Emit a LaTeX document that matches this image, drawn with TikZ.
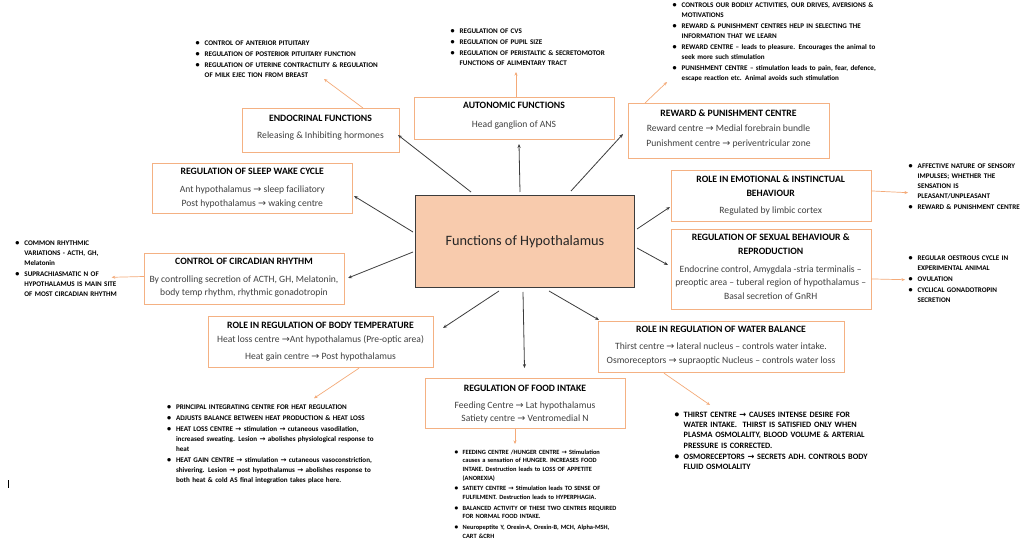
\documentclass[tikz,border=0pt]{standalone}
\usepackage{fontspec}
\usepackage{graphicx}
\setmainfont{Carlito}
\newfontfamily\arrowfont{DejaVu Sans}
\usetikzlibrary{arrows.meta}
\definecolor{boxorange}{RGB}{244,177,131}
\definecolor{arroworange}{RGB}{244,170,120}
\definecolor{centerfill}{RGB}{248,203,173}
\definecolor{linegray}{RGB}{60,60,60}
\definecolor{textgray}{RGB}{64,64,64}
\newcommand{\ra}{{\arrowfont →}}
\newcommand{\ttl}[1]{{\bfseries\fontsize{9.7}{13.6}\selectfont\color{black}#1}}
\newlength\bind
\setlength\bind{9pt}
\newlength\bgap
\setlength\bgap{1pt}
\newcommand{\nl}{\hfil\break}
\newcommand{\bdot}{\scalebox{1.15}{\textbullet}}
\newcommand{\bfirst}[1]{\hangindent=\bind\hangafter=1\noindent\makebox[\bind][l]{\bdot}#1\par}
\newcommand{\bl}[1]{\vskip\bgap\hangindent=\bind\hangafter=1\noindent\makebox[\bind][l]{\bdot}#1\par}
\tikzset{
  obox/.style={draw=boxorange, line width=0.9pt, inner sep=0pt, anchor=north west},
  hbox/.style={draw=linegray, line width=0.9pt, fill=centerfill, inner sep=0pt, anchor=north west,
    font=\fontsize{14.3}{16}\selectfont, text=black!85},
  btxt/.style={inner sep=0pt, anchor=north, align=center, font=\fontsize{9.6}{13.6}\selectfont, text=textgray},
  blist/.style={inner sep=0pt, anchor=north west, text width=330pt, align=left,
    font=\bfseries\fontsize{7.1}{10}\selectfont, text=black},
  oarr/.style={draw=arroworange, line width=0.7pt, -{Stealth[length=3.5pt,width=3pt]}},
  karr/.style={draw=linegray, line width=0.8pt, -{Stealth[length=4pt,width=3.2pt]}},
}
\begin{document}
\begin{tikzpicture}[x=1pt,y=-1pt]
\useasboundingbox (0,0) rectangle (1023,553);
\fill[white] (0,0) rectangle (1023,553);

% central box
\node[hbox, minimum width=219pt, minimum height=92pt] (hypo) at (415,195) {Functions of Hypothalamus};

% outer boxes
\node[obox, minimum width=157pt, minimum height=44pt] (endo) at (242,108) {};
\node[obox, minimum width=200pt, minimum height=42pt] (auto) at (414,97) {};
\node[obox, minimum width=201pt, minimum height=55pt] (rew) at (628,103) {};
\node[obox, minimum width=200pt, minimum height=50pt] (sleep) at (152.3,163.3) {};
\node[obox, minimum width=200pt, minimum height=50.7pt] (circ) at (144,253.3) {};
\node[obox, minimum width=200pt, minimum height=51pt] (emo) at (670.7,170) {};
\node[obox, minimum width=200pt, minimum height=80pt] (sex) at (670.7,229) {};
\node[obox, minimum width=224.4pt, minimum height=51.3pt] (temp) at (208.3,316) {};
\node[obox, minimum width=200pt, minimum height=50pt] (food) at (425,378.3) {};
\node[obox, minimum width=245.7pt, minimum height=51.6pt] (water) at (598.3,320.7) {};

% box texts
\node[btxt] (endoT) at (320.5,114.6) {\ttl{ENDOCRINAL FUNCTIONS}\\[3.4pt]Releasing \& Inhibiting hormones};
\node[btxt] (autoT) at (514,102.4) {\ttl{AUTONOMIC FUNCTIONS}\\[4.7pt]Head ganglion of ANS};
\node[btxt] (rewT) at (728.5,109.4) {\ttl{REWARD \& PUNISHMENT CENTRE}\\[1.7pt]Reward centre \ra{} Medial forebrain bundle\\[1.4pt]Punishment centre \ra{} periventricular zone};
\node[btxt] (sleepT) at (252.3,168.4) {\ttl{REGULATION OF SLEEP WAKE CYCLE}\\[4pt]Ant hypothalamus \ra{} sleep faciliatory\\Post hypothalamus \ra{} waking centre};
\node[btxt] (circT) at (244,258.4) {\ttl{CONTROL OF CIRCADIAN RHYTHM}\\[3.7pt]By controlling secretion of ACTH, GH, Melatonin,\\body temp rhythm, rhythmic gonadotropin};
\node[btxt] (emoT) at (770.7,175.7) {\ttl{ROLE IN EMOTIONAL \& INSTINCTUAL}\\\ttl{BEHAVIOUR}\\[3.7pt]Regulated by limbic cortex};
\node[btxt] (sexT) at (770.7,234) {\ttl{REGULATION OF SEXUAL BEHAVIOUR \&}\\\ttl{REPRODUCTION}\\[4pt]Endocrine control, Amygdala -stria terminalis --\\preoptic area -- tuberal region of hypothalamus --\\Basal secretion of GnRH};
\node[btxt] (tempT) at (320.5,321.7) {\ttl{ROLE IN REGULATION OF BODY TEMPERATURE}\\[0.4pt]Heat loss centre \ra Ant hypothalamus (Pre-optic area)\\[3.4pt]Heat gain centre \ra{} Post hypothalamus};
\node[btxt] (foodT) at (525,385) {\ttl{REGULATION OF FOOD INTAKE}\\[3.1pt]Feeding Centre \ra{} Lat hypothalamus\\Satiety centre \ra{} Ventromedial N};
\node[btxt] (waterT) at (721,326) {\ttl{ROLE IN REGULATION OF WATER BALANCE}\\[3.8pt]Thirst centre \ra{} lateral nucleus -- controls water intake.\\[0.4pt]Osmoreceptors \ra{} supraoptic Nucleus -- controls water loss};

% bullet lists
\node[blist] (endoB) at (195.5,40.9) {%
\bfirst{CONTROL OF ANTERIOR PITUITARY}
\bl{REGULATION OF POSTERIOR PITUITARY FUNCTION}
\bl{REGULATION OF UTERINE CONTRACTILITY \& REGULATION\nl OF MILK EJEC TION FROM BREAST}};

\node[blist] (autoB) at (450.5,28.3) {%
\bfirst{REGULATION OF CVS}
\bl{REGULATION OF PUPIL SIZE}
\bl{REGULATION OF PERISTALTIC \& SECRETOMOTOR\nl FUNCTIONS OF ALIMENTARY TRACT}};

\node[blist] (rewB) at (672.5,2.9) {%
\bfirst{CONTROLS OUR BODILY ACTIVITIES, OUR DRIVES, AVERSIONS \&\nl MOTIVATIONS}
\bl{REWARD \& PUNISHMENT CENTRES HELP IN SELECTING THE\nl INFORMATION THAT WE LEARN}
\bl{REWARD CENTRE -- leads to pleasure. Encourages the animal to\nl seek more such stimulation}
\bl{PUNISHMENT CENTRE -- stimulation leads to pain, fear, defence,\nl escape reaction etc. Animal avoids such stimulation}};

\node[blist] (emoB) at (908.5,163.6) {%
\bfirst{AFFECTIVE NATURE OF SENSORY\nl IMPULSES; WHETHER THE\nl SENSATION IS\nl PLEASANT/UNPLEASANT}
\bl{REWARD \& PUNISHMENT CENTRE}};

\node[blist] (sexB) at (908.5,255.9) {%
\bfirst{REGULAR OESTROUS CYCLE IN\nl EXPERIMENTAL ANIMAL}
\bl{OVULATION}
\bl{CYCLICAL GONADOTROPIN\nl SECRETION}};

\node[blist] (circB) at (15.2,240.9) {%
\bfirst{COMMON RHYTHMIC\nl VARIATIONS - ACTH, GH,\nl Melatonin}
\bl{SUPRACHIASMATIC N OF\nl HYPOTHALAMUS IS MAIN SITE\nl OF MOST CIRCADIAN RHYTHM}};

\node[blist] (tempB) at (166.8,404.9) {%
\bfirst{PRINCIPAL INTEGRATING CENTRE FOR HEAT REGULATION}
\bl{ADJUSTS BALANCE BETWEEN HEAT PRODUCTION \& HEAT LOSS}
\bl{HEAT LOSS CENTRE \ra{}\ stimulation \ra{} cutaneous vasodilation,\nl increased sweating. Lesion \ra{} abolishes physiological response to\nl heat}
\bl{HEAT GAIN CENTRE \ra{} stimulation \ra{} cutaneous vasoconstriction,\nl shivering. Lesion \ra{} post hypothalamus \ra{} abolishes response to\nl both heat \& cold AS final integration takes place here.}};

\node[blist, font=\bfseries\fontsize{6.4}{8.6}\selectfont] (foodB) at (454.5,449.5) {%
\setlength\bgap{2.2pt}\setlength\bind{8pt}%
\bfirst{FEEDING CENTRE /HUNGER CENTRE \ra{} Stimulation\nl causes a sensation of HUNGER. INCREASES FOOD\nl INTAKE. Destruction leads to LOSS OF APPETITE\nl (ANOREXIA)}
\bl{SATIETY CENTRE \ra{} Stimulation leads TO SENSE OF\nl FULFILMENT. Destruction leads to HYPERPHAGIA.}
\bl{BALANCED ACTIVITY OF THESE TWO CENTRES REQUIRED\nl FOR NORMAL FOOD INTAKE.}
\bl{Neuropeptite Y, Orexin-A, Orexin-B, MCH, Alpha-MSH,\nl CART \&CRH}};

\node[blist, font=\bfseries\fontsize{8.2}{10.1}\selectfont] (waterB) at (674.5,412.2) {%
\bfirst{THIRST CENTRE \ra{} CAUSES INTENSE DESIRE FOR\nl WATER INTAKE.\ \ THIRST IS SATISFIED ONLY WHEN\nl PLASMA OSMOLALITY, BLOOD VOLUME \& ARTERIAL\nl PRESSURE IS CORRECTED.}
\bl{OSMORECEPTORS \ra{} SECRETS ADH. CONTROLS BODY\nl FLUID OSMOLALITY}};

% orange arrows from boxes to bullet lists
\coordinate (endoTip) at (324,79);
\coordinate (autoTip) at (516,72);
\coordinate (rewTip) at (667,82);
\coordinate (emoTip) at (908,192.7);
\coordinate (sexTip) at (905,279.7);
\coordinate (circTip) at (111.7,277.3);
\coordinate (tempTip) at (314,398.3);
\coordinate (foodTip) at (515,444);
\coordinate (waterTip) at (710,405);
\draw[oarr] ([xshift=121pt]endo.north west) -- (endoTip);
\draw[oarr] ([xshift=102pt]auto.north west) -- (autoTip);
\draw[oarr] ([xshift=17pt]rew.north west) -- (rewTip);
\draw[oarr] ([yshift=5pt]emo.east) -- (emoTip);
\draw[oarr] ([yshift=-9.5pt]sex.east) -- (sexTip);
\draw[oarr] ([yshift=2.6pt]circ.west) -- (circTip);
\draw[oarr] ([xshift=150.7pt]temp.south west) -- (tempTip);
\draw[oarr] ([xshift=90pt]food.south west) -- (foodTip);
\draw[oarr] ([xshift=65.7pt]water.south west) -- (waterTip);

% black arrows from the central box
\coordinate (s1) at (471,192);   \coordinate (e1) at (398,135);
\coordinate (s2) at (520,192);   \coordinate (e2) at (519,144);
\coordinate (s3) at (571,191);   \coordinate (e3) at (623,134);
\coordinate (s4) at (637,229);   \coordinate (e4) at (670,207);
\coordinate (s5) at (637,248);   \coordinate (e5) at (668,265);
\coordinate (s6) at (549,291);   \coordinate (e6) at (599,320);
\coordinate (s7) at (523,292);   \coordinate (e7) at (524.5,368);
\coordinate (s8) at (499,291);   \coordinate (e8) at (443,328);
\coordinate (s9) at (413,252);   \coordinate (e9) at (348,278);
\coordinate (s10) at (413,232);  \coordinate (e10) at (354,196);
\foreach \i in {1,...,10} {\draw[karr] (s\i) -- (e\i);}

% small stray mark at left
\draw[line width=0.6pt, black] (8,480) -- (8,488);
\end{tikzpicture}
\end{document}
